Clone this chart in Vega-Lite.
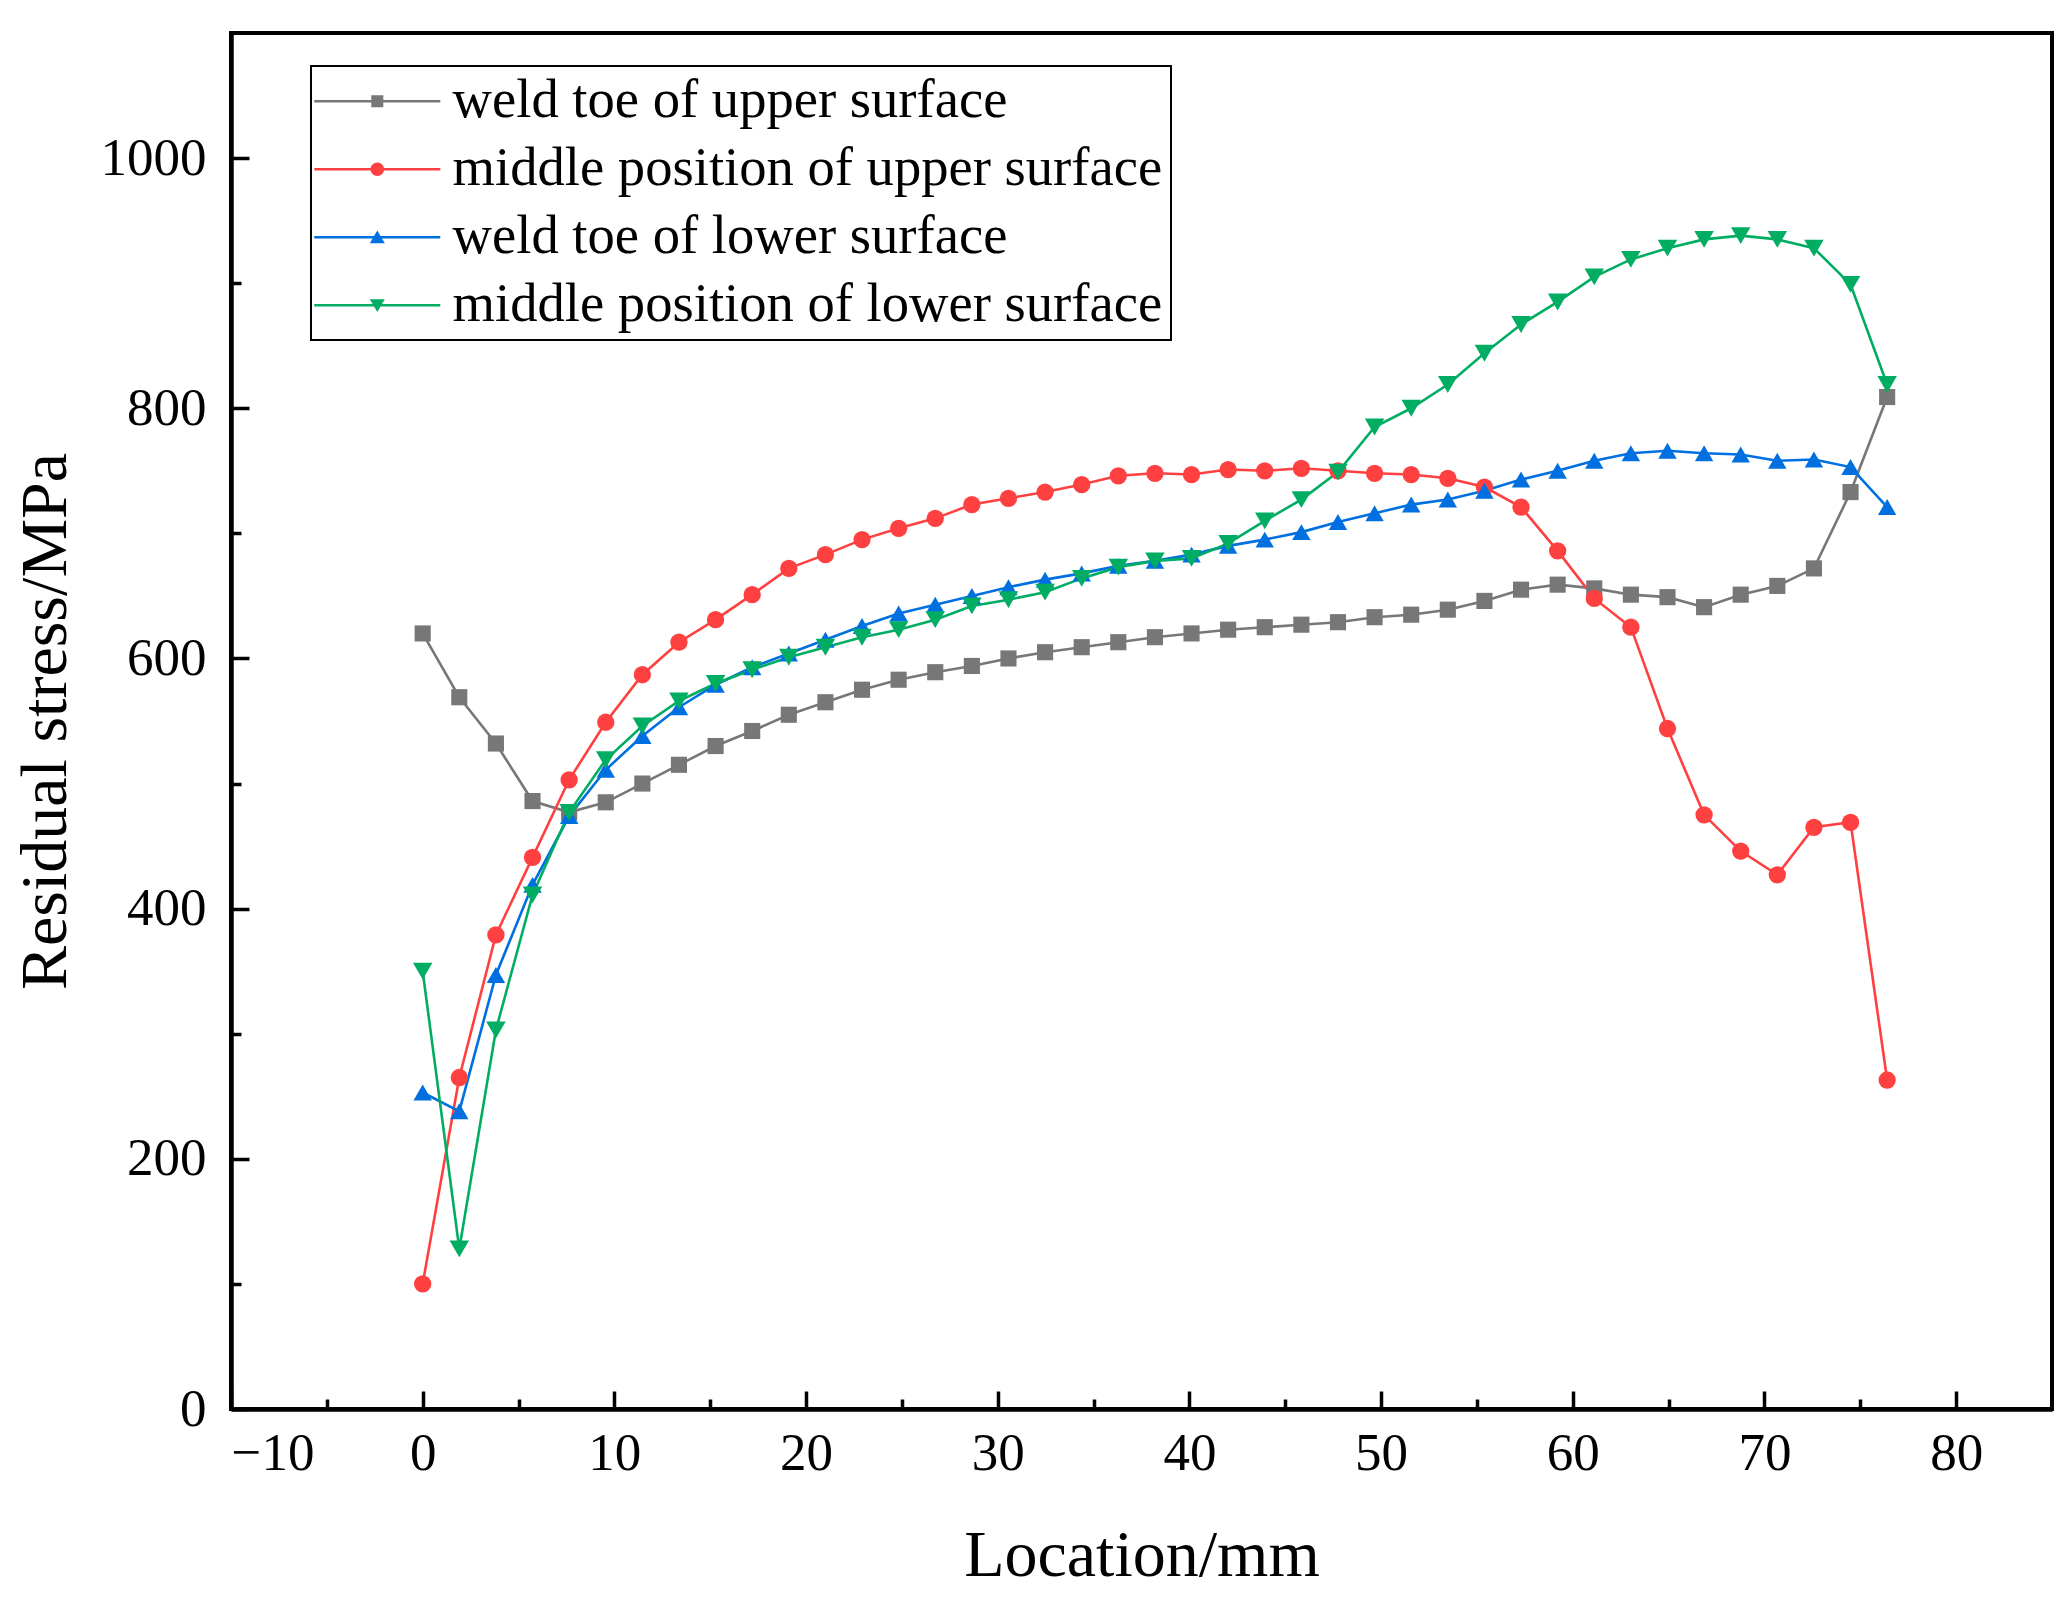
{
  "$schema": "https://vega.github.io/schema/vega-lite/v6.json",
  "width": 1821,
  "height": 1376,
  "autosize": {"type": "none"},
  "padding": {"left": 231, "top": 33, "right": 20, "bottom": 191},
  "data": {
    "values": [
      {"series": "weld toe of upper surface", "x": 0, "y": 620},
      {"series": "weld toe of upper surface", "x": 1.91, "y": 569},
      {"series": "weld toe of upper surface", "x": 3.82, "y": 532},
      {"series": "weld toe of upper surface", "x": 5.73, "y": 486},
      {"series": "weld toe of upper surface", "x": 7.64, "y": 477},
      {"series": "weld toe of upper surface", "x": 9.55, "y": 485},
      {"series": "weld toe of upper surface", "x": 11.46, "y": 500},
      {"series": "weld toe of upper surface", "x": 13.37, "y": 515},
      {"series": "weld toe of upper surface", "x": 15.28, "y": 530},
      {"series": "weld toe of upper surface", "x": 17.19, "y": 542},
      {"series": "weld toe of upper surface", "x": 19.1, "y": 555},
      {"series": "weld toe of upper surface", "x": 21.01, "y": 565},
      {"series": "weld toe of upper surface", "x": 22.92, "y": 575},
      {"series": "weld toe of upper surface", "x": 24.83, "y": 583},
      {"series": "weld toe of upper surface", "x": 26.74, "y": 589},
      {"series": "weld toe of upper surface", "x": 28.65, "y": 594},
      {"series": "weld toe of upper surface", "x": 30.56, "y": 600},
      {"series": "weld toe of upper surface", "x": 32.47, "y": 605},
      {"series": "weld toe of upper surface", "x": 34.38, "y": 609},
      {"series": "weld toe of upper surface", "x": 36.29, "y": 613},
      {"series": "weld toe of upper surface", "x": 38.2, "y": 617},
      {"series": "weld toe of upper surface", "x": 40.11, "y": 620},
      {"series": "weld toe of upper surface", "x": 42.02, "y": 623},
      {"series": "weld toe of upper surface", "x": 43.93, "y": 625},
      {"series": "weld toe of upper surface", "x": 45.84, "y": 627},
      {"series": "weld toe of upper surface", "x": 47.75, "y": 629},
      {"series": "weld toe of upper surface", "x": 49.66, "y": 633},
      {"series": "weld toe of upper surface", "x": 51.57, "y": 635},
      {"series": "weld toe of upper surface", "x": 53.48, "y": 639},
      {"series": "weld toe of upper surface", "x": 55.39, "y": 646},
      {"series": "weld toe of upper surface", "x": 57.3, "y": 655},
      {"series": "weld toe of upper surface", "x": 59.21, "y": 659},
      {"series": "weld toe of upper surface", "x": 61.12, "y": 656},
      {"series": "weld toe of upper surface", "x": 63.03, "y": 651},
      {"series": "weld toe of upper surface", "x": 64.94, "y": 649},
      {"series": "weld toe of upper surface", "x": 66.85, "y": 641},
      {"series": "weld toe of upper surface", "x": 68.76, "y": 651},
      {"series": "weld toe of upper surface", "x": 70.67, "y": 658},
      {"series": "weld toe of upper surface", "x": 72.58, "y": 672},
      {"series": "weld toe of upper surface", "x": 74.49, "y": 733},
      {"series": "weld toe of upper surface", "x": 76.4, "y": 809},
      {"series": "middle position of upper surface", "x": 0, "y": 100},
      {"series": "middle position of upper surface", "x": 1.91, "y": 265},
      {"series": "middle position of upper surface", "x": 3.82, "y": 379},
      {"series": "middle position of upper surface", "x": 5.73, "y": 441},
      {"series": "middle position of upper surface", "x": 7.64, "y": 503},
      {"series": "middle position of upper surface", "x": 9.55, "y": 549},
      {"series": "middle position of upper surface", "x": 11.46, "y": 587},
      {"series": "middle position of upper surface", "x": 13.37, "y": 613},
      {"series": "middle position of upper surface", "x": 15.28, "y": 631},
      {"series": "middle position of upper surface", "x": 17.19, "y": 651},
      {"series": "middle position of upper surface", "x": 19.1, "y": 672},
      {"series": "middle position of upper surface", "x": 21.01, "y": 683},
      {"series": "middle position of upper surface", "x": 22.92, "y": 695},
      {"series": "middle position of upper surface", "x": 24.83, "y": 704},
      {"series": "middle position of upper surface", "x": 26.74, "y": 712},
      {"series": "middle position of upper surface", "x": 28.65, "y": 723},
      {"series": "middle position of upper surface", "x": 30.56, "y": 728},
      {"series": "middle position of upper surface", "x": 32.47, "y": 733},
      {"series": "middle position of upper surface", "x": 34.38, "y": 739},
      {"series": "middle position of upper surface", "x": 36.29, "y": 746},
      {"series": "middle position of upper surface", "x": 38.2, "y": 748},
      {"series": "middle position of upper surface", "x": 40.11, "y": 747},
      {"series": "middle position of upper surface", "x": 42.02, "y": 751},
      {"series": "middle position of upper surface", "x": 43.93, "y": 750},
      {"series": "middle position of upper surface", "x": 45.84, "y": 752},
      {"series": "middle position of upper surface", "x": 47.75, "y": 750},
      {"series": "middle position of upper surface", "x": 49.66, "y": 748},
      {"series": "middle position of upper surface", "x": 51.57, "y": 747},
      {"series": "middle position of upper surface", "x": 53.48, "y": 744},
      {"series": "middle position of upper surface", "x": 55.39, "y": 737},
      {"series": "middle position of upper surface", "x": 57.3, "y": 721},
      {"series": "middle position of upper surface", "x": 59.21, "y": 686},
      {"series": "middle position of upper surface", "x": 61.12, "y": 648},
      {"series": "middle position of upper surface", "x": 63.03, "y": 625},
      {"series": "middle position of upper surface", "x": 64.94, "y": 544},
      {"series": "middle position of upper surface", "x": 66.85, "y": 475},
      {"series": "middle position of upper surface", "x": 68.76, "y": 446},
      {"series": "middle position of upper surface", "x": 70.67, "y": 427},
      {"series": "middle position of upper surface", "x": 72.58, "y": 465},
      {"series": "middle position of upper surface", "x": 74.49, "y": 469},
      {"series": "middle position of upper surface", "x": 76.4, "y": 263},
      {"series": "weld toe of lower surface", "x": 0, "y": 253},
      {"series": "weld toe of lower surface", "x": 1.91, "y": 238},
      {"series": "weld toe of lower surface", "x": 3.82, "y": 347},
      {"series": "weld toe of lower surface", "x": 5.73, "y": 419},
      {"series": "weld toe of lower surface", "x": 7.64, "y": 474},
      {"series": "weld toe of lower surface", "x": 9.55, "y": 511},
      {"series": "weld toe of lower surface", "x": 11.46, "y": 538},
      {"series": "weld toe of lower surface", "x": 13.37, "y": 561},
      {"series": "weld toe of lower surface", "x": 15.28, "y": 579},
      {"series": "weld toe of lower surface", "x": 17.19, "y": 593},
      {"series": "weld toe of lower surface", "x": 19.1, "y": 604},
      {"series": "weld toe of lower surface", "x": 21.01, "y": 615},
      {"series": "weld toe of lower surface", "x": 22.92, "y": 626},
      {"series": "weld toe of lower surface", "x": 24.83, "y": 636},
      {"series": "weld toe of lower surface", "x": 26.74, "y": 643},
      {"series": "weld toe of lower surface", "x": 28.65, "y": 650},
      {"series": "weld toe of lower surface", "x": 30.56, "y": 657},
      {"series": "weld toe of lower surface", "x": 32.47, "y": 663},
      {"series": "weld toe of lower surface", "x": 34.38, "y": 668},
      {"series": "weld toe of lower surface", "x": 36.29, "y": 674},
      {"series": "weld toe of lower surface", "x": 38.2, "y": 678},
      {"series": "weld toe of lower surface", "x": 40.11, "y": 683},
      {"series": "weld toe of lower surface", "x": 42.02, "y": 690},
      {"series": "weld toe of lower surface", "x": 43.93, "y": 695},
      {"series": "weld toe of lower surface", "x": 45.84, "y": 701},
      {"series": "weld toe of lower surface", "x": 47.75, "y": 709},
      {"series": "weld toe of lower surface", "x": 49.66, "y": 716},
      {"series": "weld toe of lower surface", "x": 51.57, "y": 723},
      {"series": "weld toe of lower surface", "x": 53.48, "y": 727},
      {"series": "weld toe of lower surface", "x": 55.39, "y": 734},
      {"series": "weld toe of lower surface", "x": 57.3, "y": 743},
      {"series": "weld toe of lower surface", "x": 59.21, "y": 750},
      {"series": "weld toe of lower surface", "x": 61.12, "y": 758},
      {"series": "weld toe of lower surface", "x": 63.03, "y": 764},
      {"series": "weld toe of lower surface", "x": 64.94, "y": 766},
      {"series": "weld toe of lower surface", "x": 66.85, "y": 764},
      {"series": "weld toe of lower surface", "x": 68.76, "y": 763},
      {"series": "weld toe of lower surface", "x": 70.67, "y": 758},
      {"series": "weld toe of lower surface", "x": 72.58, "y": 759},
      {"series": "weld toe of lower surface", "x": 74.49, "y": 753},
      {"series": "weld toe of lower surface", "x": 76.4, "y": 721},
      {"series": "middle position of lower surface", "x": 0, "y": 350},
      {"series": "middle position of lower surface", "x": 1.91, "y": 128},
      {"series": "middle position of lower surface", "x": 3.82, "y": 303},
      {"series": "middle position of lower surface", "x": 5.73, "y": 411},
      {"series": "middle position of lower surface", "x": 7.64, "y": 477},
      {"series": "middle position of lower surface", "x": 9.55, "y": 519},
      {"series": "middle position of lower surface", "x": 11.46, "y": 546},
      {"series": "middle position of lower surface", "x": 13.37, "y": 566},
      {"series": "middle position of lower surface", "x": 15.28, "y": 580},
      {"series": "middle position of lower surface", "x": 17.19, "y": 591},
      {"series": "middle position of lower surface", "x": 19.1, "y": 601},
      {"series": "middle position of lower surface", "x": 21.01, "y": 609},
      {"series": "middle position of lower surface", "x": 22.92, "y": 617},
      {"series": "middle position of lower surface", "x": 24.83, "y": 623},
      {"series": "middle position of lower surface", "x": 26.74, "y": 631},
      {"series": "middle position of lower surface", "x": 28.65, "y": 642},
      {"series": "middle position of lower surface", "x": 30.56, "y": 647},
      {"series": "middle position of lower surface", "x": 32.47, "y": 653},
      {"series": "middle position of lower surface", "x": 34.38, "y": 664},
      {"series": "middle position of lower surface", "x": 36.29, "y": 673},
      {"series": "middle position of lower surface", "x": 38.2, "y": 678},
      {"series": "middle position of lower surface", "x": 40.11, "y": 680},
      {"series": "middle position of lower surface", "x": 42.02, "y": 692},
      {"series": "middle position of lower surface", "x": 43.93, "y": 710},
      {"series": "middle position of lower surface", "x": 45.84, "y": 727},
      {"series": "middle position of lower surface", "x": 47.75, "y": 749},
      {"series": "middle position of lower surface", "x": 49.66, "y": 785},
      {"series": "middle position of lower surface", "x": 51.57, "y": 800},
      {"series": "middle position of lower surface", "x": 53.48, "y": 819},
      {"series": "middle position of lower surface", "x": 55.39, "y": 844},
      {"series": "middle position of lower surface", "x": 57.3, "y": 867},
      {"series": "middle position of lower surface", "x": 59.21, "y": 885},
      {"series": "middle position of lower surface", "x": 61.12, "y": 905},
      {"series": "middle position of lower surface", "x": 63.03, "y": 919},
      {"series": "middle position of lower surface", "x": 64.94, "y": 928},
      {"series": "middle position of lower surface", "x": 66.85, "y": 935},
      {"series": "middle position of lower surface", "x": 68.76, "y": 938},
      {"series": "middle position of lower surface", "x": 70.67, "y": 935},
      {"series": "middle position of lower surface", "x": 72.58, "y": 928},
      {"series": "middle position of lower surface", "x": 74.49, "y": 899},
      {"series": "middle position of lower surface", "x": 76.4, "y": 819}
    ]
  },
  "layer": [
    {
      "mark": {"type": "line", "strokeWidth": 2.6},
      "encoding": {
        "x": {
          "field": "x",
          "type": "quantitative",
          "scale": {"domain": [-10, 85], "nice": false, "zero": false},
          "axis": {
            "orient": "bottom",
            "values": [-10, 0, 10, 20, 30, 40, 50, 60, 70, 80],
            "tickSize": -18,
            "labelPadding": 36,
            "title": "Location/mm",
            "titleY": 166,
            "titleBaseline": "alphabetic"
          }
        },
        "y": {
          "field": "y",
          "type": "quantitative",
          "scale": {"domain": [0, 1100], "nice": false},
          "axis": {
            "orient": "left",
            "values": [0, 200, 400, 600, 800, 1000],
            "format": "d",
            "tickSize": -18,
            "labelPadding": 43,
            "title": "Residual stress/MPa",
            "titleX": -166,
            "titleBaseline": "alphabetic"
          }
        },
        "color": {
          "field": "series",
          "type": "nominal",
          "scale": {
            "domain": ["weld toe of upper surface", "middle position of upper surface", "weld toe of lower surface", "middle position of lower surface"],
            "range": ["#777777", "#FF4040", "#0070E0", "#00AD62"]
          },
          "legend": null
        }
      }
    },
    {
      "mark": {"type": "point", "filled": true, "opacity": 1},
      "encoding": {
        "x": {
          "field": "x",
          "type": "quantitative",
          "axis": {
            "orient": "bottom",
            "values": [-5, 5, 15, 25, 35, 45, 55, 65, 75],
            "tickSize": -10,
            "labels": false,
            "title": null
          }
        },
        "y": {
          "field": "y",
          "type": "quantitative",
          "axis": {
            "orient": "left",
            "values": [100, 300, 500, 700, 900],
            "tickSize": -10,
            "labels": false,
            "title": null
          }
        },
        "color": {
          "field": "series",
          "type": "nominal",
          "scale": {
            "domain": ["weld toe of upper surface", "middle position of upper surface", "weld toe of lower surface", "middle position of lower surface"],
            "range": ["#777777", "#FF4040", "#0070E0", "#00AD62"]
          },
          "legend": null
        },
        "shape": {
          "field": "series",
          "type": "nominal",
          "scale": {
            "domain": ["weld toe of upper surface", "middle position of upper surface", "weld toe of lower surface", "middle position of lower surface"],
            "range": ["square", "circle", "triangle-up", "triangle-down"]
          },
          "legend": null
        },
        "size": {
          "field": "series",
          "type": "ordinal",
          "scale": {
            "domain": ["weld toe of upper surface", "middle position of upper surface", "weld toe of lower surface", "middle position of lower surface"],
            "range": [260, 380, 520, 520]
          },
          "legend": null
        }
      }
    },
    {
      "mark": {"type": "point", "filled": true, "opacity": 0, "size": 900},
      "encoding": {
        "x": {"field": "x", "type": "quantitative", "axis": null},
        "y": {"field": "y", "type": "quantitative", "axis": null},
        "color": {
          "field": "series",
          "type": "nominal",
          "scale": {
            "domain": ["weld toe of upper surface", "middle position of upper surface", "weld toe of lower surface", "middle position of lower surface"],
            "range": ["#777777", "#FF4040", "#0070E0", "#00AD62"]
          }
        },
        "shape": {
          "field": "series",
          "type": "nominal",
          "scale": {
            "domain": ["weld toe of upper surface", "middle position of upper surface", "weld toe of lower surface", "middle position of lower surface"],
            "range": [
              "M-4.2,-0.085L4.2,-0.085L4.2,0.085L-4.2,0.085ZM-0.4,-0.4L0.4,-0.4L0.4,0.4L-0.4,0.4Z",
              "M-4.2,-0.085L4.2,-0.085L4.2,0.085L-4.2,0.085ZM-0.45,0A0.45,0.45,0,1,1,0.45,0A0.45,0.45,0,1,1,-0.45,0Z",
              "M-4.2,-0.085L4.2,-0.085L4.2,0.085L-4.2,0.085ZM0,-0.45L0.5,0.4L-0.5,0.4Z",
              "M-4.2,-0.085L4.2,-0.085L4.2,0.085L-4.2,0.085ZM0,0.45L-0.5,-0.4L0.5,-0.4Z"
            ]
          }
        }
      }
    }
  ],
  "resolve": {
    "axis": {"x": "independent", "y": "independent"},
    "scale": {"shape": "independent", "color": "independent"}
  },
  "config": {
    "font": "Liberation Serif",
    "view": {"stroke": "black", "strokeWidth": 4},
    "axis": {
      "grid": false,
      "domainColor": "black",
      "domainWidth": 4,
      "tickColor": "black",
      "tickWidth": 3.5,
      "labelFont": "Liberation Serif",
      "labelFontSize": 53,
      "labelColor": "black",
      "titleFont": "Liberation Serif",
      "titleFontSize": 66,
      "titleFontWeight": "normal",
      "titleColor": "black"
    },
    "legend": {
      "orient": "none",
      "legendX": 80,
      "legendY": 33,
      "title": null,
      "strokeColor": "black",
      "strokeWidth": 2,
      "fillColor": "white",
      "padding": 8,
      "labelFont": "Liberation Serif",
      "labelFontSize": 54.6,
      "labelColor": "black",
      "labelLimit": 0,
      "symbolSize": 900,
      "symbolOpacity": 1,
      "symbolStrokeWidth": 0,
      "symbolOffset": 31,
      "labelOffset": 48,
      "rowPadding": 13
    }
  }
}
